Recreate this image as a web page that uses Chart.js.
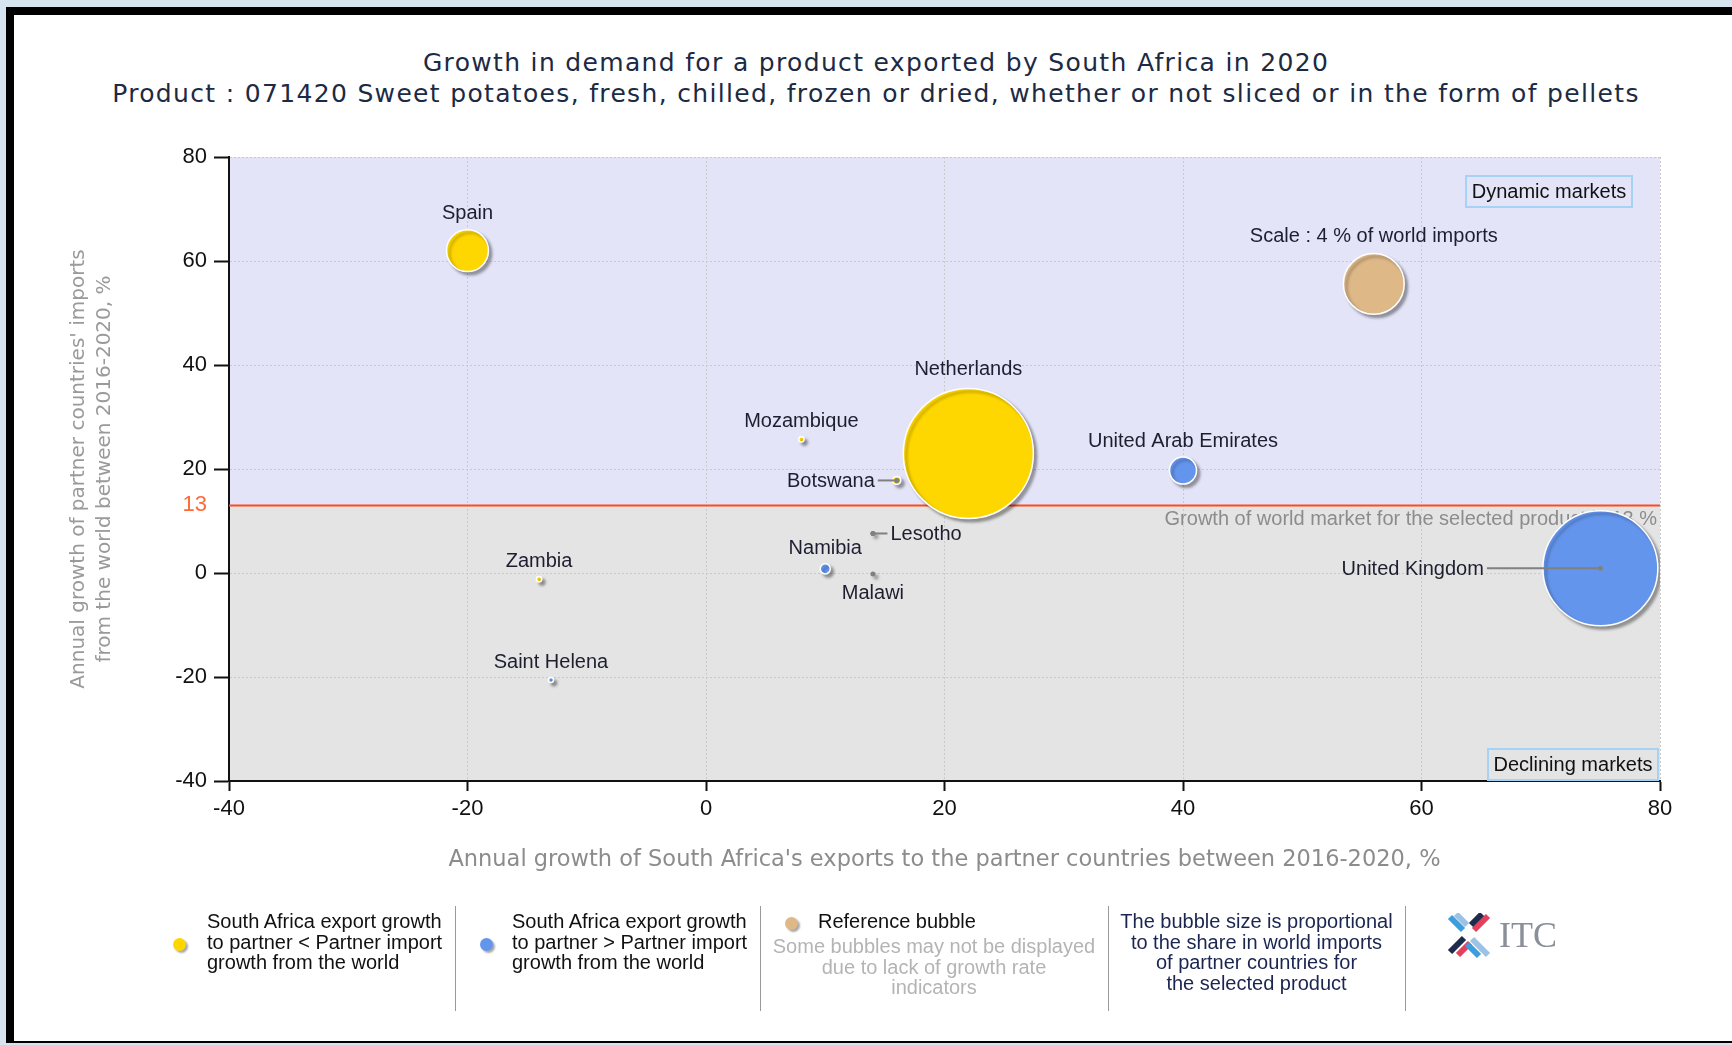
<!DOCTYPE html>
<html>
<head>
<meta charset="utf-8">
<script src="https://cdn.jsdelivr.net/npm/chart.js@4.4.1/dist/chart.umd.min.js"></script>
<style>
  html, body { margin: 0; padding: 0; }
  body { width: 1732px; height: 1045px; background: #d6e4f2; position: relative; overflow: hidden; }
  #frame { position: absolute; left: 6px; top: 7px; width: 1740px; height: 1026px; background: #fff;
           border-left: 8px solid #000; border-top: 8px solid #000; border-bottom: 2px solid #000; }
  #c { position: absolute; left: 0; top: 0; }
  .title { position: absolute; left: 0; width: 1752px; text-align: center; font-family: "DejaVu Sans", sans-serif;
           font-size: 25px; letter-spacing: 1.33px; color: #1c2a44; white-space: nowrap; }
  .lg { position: absolute; font-family: "Liberation Sans", Arial, sans-serif; font-size: 20px; line-height: 20.5px;
        color: #111; white-space: nowrap; }
  .sep { position: absolute; top: 906px; width: 1px; height: 105px; background: #9a9a9a; }
  .dot { position: absolute; width: 13px; height: 13px; border-radius: 50%; box-shadow: 2px 2px 2px rgba(0,0,0,0.35); }
</style>
</head>
<body>
<div id="frame"></div>
<div class="title" style="top:48px">Growth in demand for a product exported by South Africa in 2020</div>
<div class="title" style="top:79px">Product : 071420 Sweet potatoes, fresh, chilled, frozen or dried, whether or not sliced or in the form of pellets</div>
<canvas id="c" width="1732" height="1045"></canvas>

<div class="dot" style="left:173px;top:938px;background:#ffd700"></div>
<div class="lg" style="left:207px;top:911px">South Africa export growth<br>to partner &lt; Partner import<br>growth from the world</div>
<div class="sep" style="left:455px"></div>
<div class="dot" style="left:480px;top:938px;background:#6495ed"></div>
<div class="lg" style="left:512px;top:911px">South Africa export growth<br>to partner &gt; Partner import<br>growth from the world</div>
<div class="sep" style="left:760px"></div>
<div class="dot" style="left:785px;top:917px;background:#deb887"></div>
<div class="lg" style="left:818px;top:911px">Reference bubble</div>
<div class="lg" style="left:760px;width:348px;top:936px;text-align:center;color:#b4b4b4">Some bubbles may not be displayed<br>due to lack of growth rate<br>indicators</div>
<div class="sep" style="left:1108px"></div>
<div class="lg" style="left:1108px;width:297px;top:911px;text-align:center;color:#1a2550">The bubble size is proportional<br>to the share in world imports<br>of partner countries for<br>the selected product</div>
<div class="sep" style="left:1405px"></div>
<svg style="position:absolute;left:1446px;top:913px" width="46" height="46" viewBox="0 0 46 46">
  <g stroke-width="6" stroke-linecap="butt">
    <line x1="4" y1="4" x2="17" y2="17" stroke="#3e9ddc"/>
    <line x1="10" y1="1" x2="21" y2="12" stroke="#9cc3e6"/>
    <line x1="42" y1="3" x2="28" y2="17" stroke="#e2405c"/>
    <line x1="36" y1="1" x2="25" y2="12" stroke="#1f2b4a"/>
    <line x1="18" y1="25" x2="4" y2="39" stroke="#1f2b4a"/>
    <line x1="24" y1="30" x2="12" y2="42" stroke="#e2405c"/>
    <line x1="26" y1="26" x2="42" y2="42" stroke="#9cc3e6"/>
    <line x1="21" y1="31" x2="33" y2="43" stroke="#3e9ddc"/>
  </g>
</svg>
<div style="position:absolute;left:1499px;top:914px;font-family:'Liberation Serif',serif;font-size:36px;color:#8a8f99">ITC</div>

<script>
// partner countries of South Africa, product 071420
const countries = ['Spain', 'Netherlands', 'Mozambique', 'Botswana', 'Zambia',
  'United Arab Emirates', 'United Kingdom', 'Namibia', 'Saint Helena', 'Lesotho', 'Malawi'];
// annual growth of South Africa's exports to partner, 2016-2020, %
const exportGrowth = [-20, 22, 8, 16, -14, 40, 75, 10, -13, 14, 14];
// annual growth of partner imports from the world, 2016-2020, %
const importGrowth = [62, 23, 25.7, 17.8, -1.2, 19.7, 0.9, 0.8, -20.6, 7.6, -0.2];
// share in world imports, %
const worldShare = [1.9, 18.3, 0.03, 0.07, 0.03, 0.79, 14.3, 0.11, 0.02, 0, 0];

const refBubble = { label: 'Scale : 4 % of world imports', x: 56, y: 55.6, share: 4 };
const worldGrowth = 13;
const xTicks = [-40, -20, 0, 20, 40, 60, 80];
const yTicks = [-40, -20, 0, 13, 20, 40, 60, 80];

const radius = share => Math.max(2.5, 15.2 * Math.sqrt(share));

function points(test) {
  const out = [];
  countries.forEach((name, i) => {
    if (test(i)) out.push({ x: exportGrowth[i], y: importGrowth[i], r: radius(worldShare[i]), name });
  });
  return out;
}
const hasShare = i => worldShare[i] > 0;

// where each label sits relative to its bubble
const labelPlace = {
  'Botswana': { pos: 'left', leader: 15 },
  'United Kingdom': { pos: 'left', leader: 56 },
  'Lesotho': { pos: 'right', leader: 12 },
  'Malawi': { pos: 'bottom' }
};

const marketPlugin = {
  id: 'markets',
  beforeDraw(chart) {
    const { ctx, chartArea: a, scales: { y } } = chart;
    const yw = y.getPixelForValue(worldGrowth);
    ctx.save();
    ctx.fillStyle = '#e4e4f8';
    ctx.fillRect(a.left, a.top, a.right - a.left, yw - a.top);
    ctx.fillStyle = '#e4e4e4';
    ctx.fillRect(a.left, yw, a.right - a.left, a.bottom - yw);
    ctx.restore();
  },
  beforeDatasetsDraw(chart) {
    const { ctx, chartArea: a, scales: { y } } = chart;
    const yw = y.getPixelForValue(worldGrowth);
    ctx.save();
    ctx.strokeStyle = '#ff4a1c';
    ctx.lineWidth = 2;
    ctx.beginPath();
    ctx.moveTo(a.left, yw);
    ctx.lineTo(a.right, yw);
    ctx.stroke();
    ctx.font = '20px "Liberation Sans"';
    ctx.fillStyle = '#8c8c8c';
    ctx.textAlign = 'right';
    ctx.textBaseline = 'middle';
    ctx.fillText('Growth of world market for the selected product is ' + worldGrowth + ' %', a.right - 3, yw + 14);
    ctx.restore();
  },
  beforeDatasetDraw(chart) {
    const ctx = chart.ctx;
    ctx.shadowColor = 'rgba(0,0,0,0.35)';
    ctx.shadowOffsetX = 3;
    ctx.shadowOffsetY = 3;
    ctx.shadowBlur = 3;
  },
  afterDatasetDraw(chart) {
    const ctx = chart.ctx;
    ctx.shadowColor = 'rgba(0,0,0,0)';
    ctx.shadowOffsetX = 0;
    ctx.shadowOffsetY = 0;
    ctx.shadowBlur = 0;
  },
  afterDatasetsDraw(chart) {
    const { ctx, chartArea: a, scales: { x, y } } = chart;
    ctx.save();
    ctx.font = '20px "Liberation Sans"';
    ctx.textBaseline = 'middle';
    const items = countries.map((name, i) => ({ name, x: exportGrowth[i], y: importGrowth[i], r: radius(worldShare[i]) }));
    items.push({ name: refBubble.label, x: refBubble.x, y: refBubble.y, r: radius(refBubble.share) });
    items.forEach(it => {
      const cx = x.getPixelForValue(it.x);
      const cy = y.getPixelForValue(it.y);
      const p = labelPlace[it.name] || { pos: 'top' };
      ctx.fillStyle = '#1e1e30';
      if (p.pos === 'top') {
        ctx.textAlign = 'center';
        ctx.fillText(it.name, cx, cy - it.r - 15 - it.r * 0.06);
      } else if (p.pos === 'bottom') {
        ctx.textAlign = 'center';
        ctx.fillText(it.name, cx, cy + it.r + 17);
      } else {
        const dir = p.pos === 'left' ? -1 : 1;
        const end = cx + dir * (it.r + p.leader);
        ctx.strokeStyle = '#808080';
        ctx.lineWidth = 2;
        ctx.beginPath();
        ctx.moveTo(cx, cy);
        ctx.lineTo(end, cy);
        ctx.stroke();
        ctx.fillStyle = '#808080';
        ctx.beginPath();
        ctx.arc(cx, cy, 2.5, 0, Math.PI * 2);
        ctx.fill();
        ctx.fillStyle = '#1e1e30';
        ctx.textAlign = p.pos === 'left' ? 'right' : 'left';
        ctx.fillText(it.name, end + dir * 3, cy + 1);
      }
    });
    // quadrant captions
    const box = (text, right, top, w, h) => {
      ctx.strokeStyle = '#a6d3f5';
      ctx.lineWidth = 2;
      ctx.strokeRect(right - w, top, w, h);
      ctx.fillStyle = '#111';
      ctx.textAlign = 'center';
      ctx.fillText(text, right - w / 2, top + h / 2 + 1);
    };
    box('Dynamic markets', a.right - 28, a.top + 19, 166, 31);
    box('Declining markets', a.right - 2, a.bottom - 32, 170, 31);
    ctx.restore();
  }
};

const gridColor = c => c.tick && c.tick.value === worldGrowth ? 'rgba(0,0,0,0)' : '#c9c9c9';
const tickMarkColor = c => c.tick && c.tick.value === worldGrowth ? 'rgba(0,0,0,0)' : '#111';

new Chart(document.getElementById('c'), {
  type: 'bubble',
  data: {
    datasets: [
      { label: 'lower', data: points(i => hasShare(i) && exportGrowth[i] < importGrowth[i]),
        backgroundColor: '#ffd700', borderColor: '#ffffff', borderWidth: 1.5 },
      { label: 'higher', data: points(i => hasShare(i) && exportGrowth[i] >= importGrowth[i]),
        backgroundColor: '#6495ed', borderColor: '#ffffff', borderWidth: 1.5 },
      { label: 'reference', data: [{ x: refBubble.x, y: refBubble.y, r: radius(refBubble.share) }],
        backgroundColor: '#deb887', borderColor: '#ffffff', borderWidth: 1.5 },
      { label: 'no share', data: points(i => !hasShare(i)),
        backgroundColor: '#808080', borderColor: '#808080', borderWidth: 0 }
    ]
  },
  options: {
    responsive: false,
    devicePixelRatio: 1,
    animation: false,
    layout: { padding: { left: 0, right: 72, top: 157, bottom: 145 } },
    plugins: { legend: { display: false }, tooltip: { enabled: false } },
    scales: {
      x: {
        type: 'linear', min: -40, max: 80,
        afterBuildTicks: s => { s.ticks = xTicks.map(v => ({ value: v })); },
        afterFit: s => { s.height = 119; },
        ticks: { font: { family: 'Liberation Sans', size: 22 }, color: '#111', padding: 5 },
        grid: { color: '#c9c9c9', tickColor: '#111', tickLength: 10, tickWidth: 2 },
        border: { color: '#111', width: 2, dash: [2, 2] },
        title: { display: true, text: "Annual growth of South Africa's exports to the partner countries between 2016-2020, %",
                 font: { family: 'DejaVu Sans', size: 22.5, lineHeight: 1.3 }, color: '#8c8c8c', padding: { top: 0, bottom: 25 } }
      },
      y: {
        type: 'linear', min: -40, max: 80,
        afterBuildTicks: s => { s.ticks = yTicks.map(v => ({ value: v })); },
        afterFit: s => { s.width = 229; },
        ticks: { font: { family: 'Liberation Sans', size: 22 },
                 color: c => c.tick.value === worldGrowth ? '#ff6a3a' : '#111', padding: 7 },
        grid: { color: gridColor, tickColor: tickMarkColor, tickLength: 15, tickWidth: 2 },
        border: { color: '#111', width: 2, dash: [2, 2] },
        title: { display: true, text: ["Annual growth of partner countries' imports", 'from the world between 2016-2020, %'],
                 font: { family: 'DejaVu Sans', size: 20, lineHeight: 1.3 }, color: '#9a9a9a', padding: { top: 66, bottom: 0 } }
      }
    }
  },
  plugins: [marketPlugin]
});
</script>
</body>
</html>
